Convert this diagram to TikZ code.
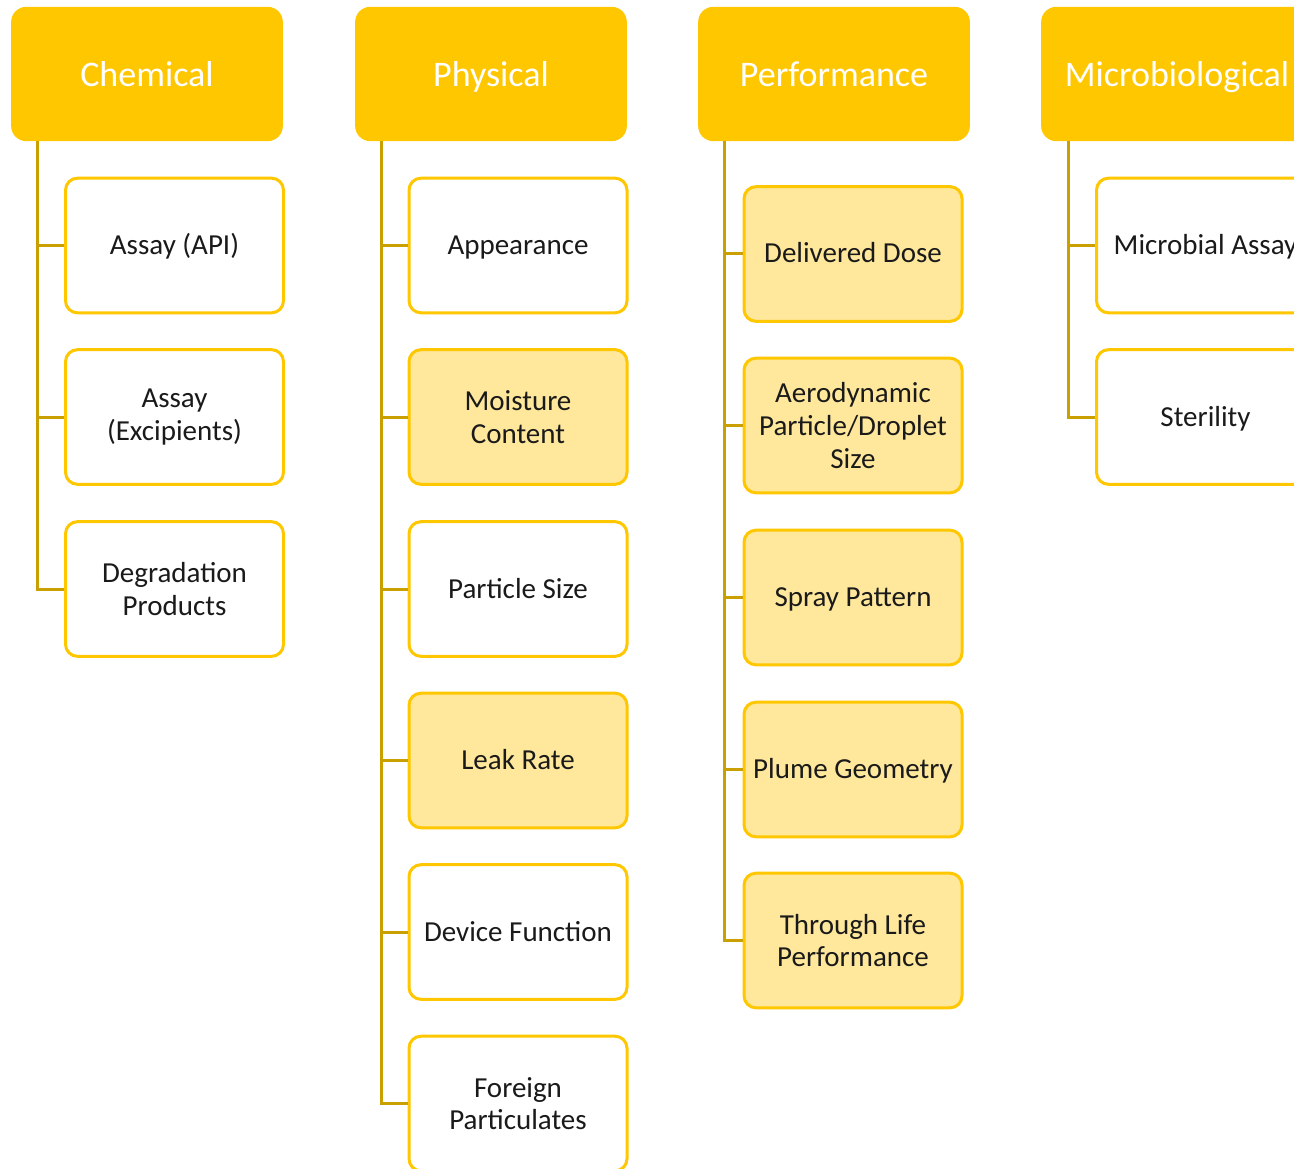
\documentclass[tikz,border=0pt]{standalone}
\usepackage{fontspec}
\setmainfont{Carlito}
\usetikzlibrary{calc}
\definecolor{gold}{HTML}{FFC700}
\definecolor{lightgold}{HTML}{FFE89C}
\definecolor{linegold}{HTML}{C9A000}
\definecolor{txt}{HTML}{1A1A1A}
\tikzset{
  head/.style={rectangle, rounded corners=11pt, fill=gold, draw=gold, line width=0.75pt,
    minimum width=203pt, minimum height=100pt, inner sep=0pt,
    text height=24pt, text depth=5pt,
    text=white, font=\fontsize{27}{32}\selectfont},
  item/.style={rectangle, rounded corners=9pt, fill=white, draw=gold, line width=2.25pt,
    minimum width=163.5pt, minimum height=101pt, inner sep=2pt, align=center,
    text=txt, font=\fontsize{21.75}{24.5}\selectfont},
  shaded/.style={item, fill=lightgold},
  one/.style={text height=18.5pt, text depth=5pt},
  conn/.style={draw=linegold, line width=2.25pt}
}
\begin{document}
\begin{tikzpicture}[x=0.75pt,y=-0.75pt]
\useasboundingbox (0,0) rectangle (1294,1169);
\clip (0,0) rectangle (1294,1169);
% headers
\node[head] (chem) at (147,74) {Chemical};
\node[head] (phys) at (491,74) {Physical};
\node[head] (perf) at (834,74) {Performance};
\node[head] (micro) at (1177,74) {Microbiological};
% chemical children
\node[item,one] (c1) at (174.5,245.5) {Assay (API)};
\node[item] (c2) at (174.5,417) {Assay\\(Excipients)};
\node[item] (c3) at (174.5,589) {Degradation\\Products};
% physical children
\node[item,one] (p1) at (518,245.5) {Appearance};
\node[shaded] (p2) at (518,417) {Moisture\\Content};
\node[item,one] (p3) at (518,589) {Particle Size};
\node[shaded,one] (p4) at (518,760.5) {Leak Rate};
\node[item,one] (p5) at (518,932) {Device Function};
\node[item] (p6) at (518,1103.5) {Foreign\\Particulates};
% performance children
\node[shaded,one] (f1) at (853,254) {Delivered Dose};
\node[shaded] (f2) at (853,425.5) {Aerodynamic\\Particle/Droplet\\Size};
\node[shaded,one] (f3) at (853,597.5) {Spray Pattern};
\node[shaded,one] (f4) at (853,769.5) {Plume Geometry};
\node[shaded] (f5) at (853,940.5) {Through Life\\Performance};
% microbiological children
\node[item,one] (m1) at (1205.5,245.5) {Microbial Assay};
\node[item,one] (m2) at (1205.5,417) {Sterility};
% connectors
\coordinate (chemroot) at ($(chem.south west)+(26,0)$);
\coordinate (physroot) at ($(phys.south west)+(26,0)$);
\coordinate (perfroot) at ($(perf.south west)+(26,0)$);
\coordinate (microroot) at ($(micro.south west)+(27,0)$);
\foreach \c in {c1,c2,c3} \draw[conn] (chemroot) |- (\c.west);
\foreach \c in {p1,p2,p3,p4,p5,p6} \draw[conn] (physroot) |- (\c.west);
\foreach \c in {f1,f2,f3,f4,f5} \draw[conn] (perfroot) |- (\c.west);
\foreach \c in {m1,m2} \draw[conn] (microroot) |- (\c.west);
\end{tikzpicture}
\end{document}
